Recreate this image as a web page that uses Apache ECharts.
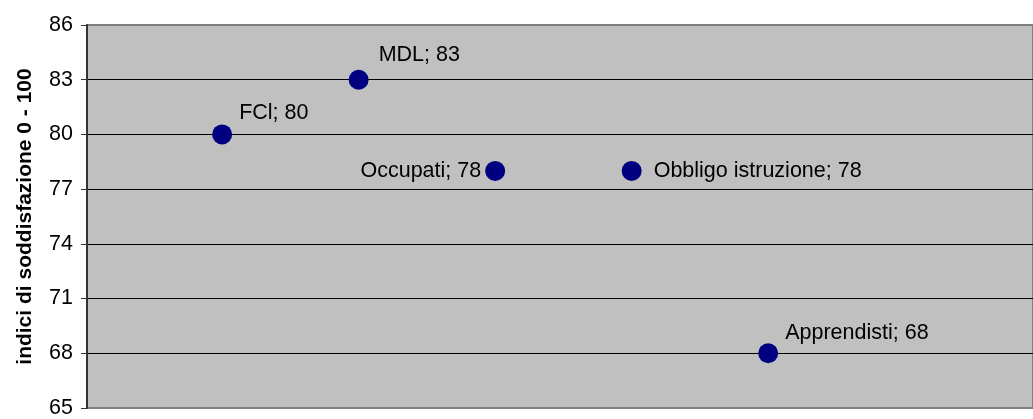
<!DOCTYPE html>
<html>
<head>
<meta charset="utf-8">
<script src="https://cdn.jsdelivr.net/npm/echarts@6/dist/echarts.min.js"></script>
<style>
  html, body { margin: 0; padding: 0; background: #fff; }
  #chart { width: 1033px; height: 419px; }
</style>
</head>
<body>
<div id="chart"></div>
<script>
// dati del grafico
const pointNames = ['FCl', 'MDL', 'Occupati', 'Obbligo istruzione', 'Apprendisti']
const pointX = [1, 2, 3, 4, 5]
const pointValues = [80, 83, 78, 78, 68]

// posizione delle etichette per ogni punto
const labelPlacement = [
  { position: 'right', distance: 7, offset: [0, -21] },
  { position: 'right', distance: 10, offset: [0, -25] },
  { position: 'left', distance: 4, offset: [0, 0] },
  { position: 'right', distance: 12, offset: [0, 0] },
  { position: 'right', distance: 7, offset: [0, -20] }
]

const chart = echarts.init(document.getElementById('chart'), null, { renderer: 'canvas' })

const seriesData = pointNames.map((name, i) => ({
  name: name,
  value: [pointX[i], pointValues[i]],
  label: labelPlacement[i]
}))

const option = {
  animation: false,
  textStyle: { fontFamily: 'Liberation Sans, Arial, sans-serif' },
  grid: {
    left: 87,
    top: 25,
    right: 0,
    bottom: 9,
    show: true,
    backgroundColor: '#C0C0C0',
    borderColor: '#808080',
    borderWidth: 2
  },
  xAxis: {
    type: 'value',
    min: 0.01,
    max: 6.94,
    axisLine: { show: false },
    axisTick: { show: false },
    axisLabel: { show: false },
    splitLine: { show: false }
  },
  yAxis: {
    type: 'value',
    min: 65,
    max: 86,
    interval: 3,
    name: 'indici di soddisfazione 0 - 100',
    nameLocation: 'middle',
    nameGap: 51,
    nameTextStyle: {
      color: '#000',
      fontSize: 21,
      fontWeight: 'bold',
      fontFamily: 'Liberation Sans, Arial, sans-serif'
    },
    axisLine: { show: true, lineStyle: { color: '#333', width: 2 } },
    axisTick: { show: true, length: 6, lineStyle: { color: '#333' } },
    axisLabel: {
      color: '#000',
      fontSize: 21.5,
      margin: 14,
      fontFamily: 'Liberation Sans, Arial, sans-serif'
    },
    splitLine: {
      show: true,
      showMinLine: false,
      showMaxLine: false,
      lineStyle: { color: '#000', width: 1 }
    }
  },
  series: [
    {
      type: 'scatter',
      symbol: 'circle',
      symbolSize: 20,
      itemStyle: { color: '#000080', opacity: 1 },
      label: {
        show: true,
        color: '#000',
        fontSize: 21.5,
        fontFamily: 'Liberation Sans, Arial, sans-serif',
        formatter: p => p.name + '; ' + p.value[1]
      },
      data: seriesData
    }
  ]
}

chart.setOption(option)
</script>
</body>
</html>
